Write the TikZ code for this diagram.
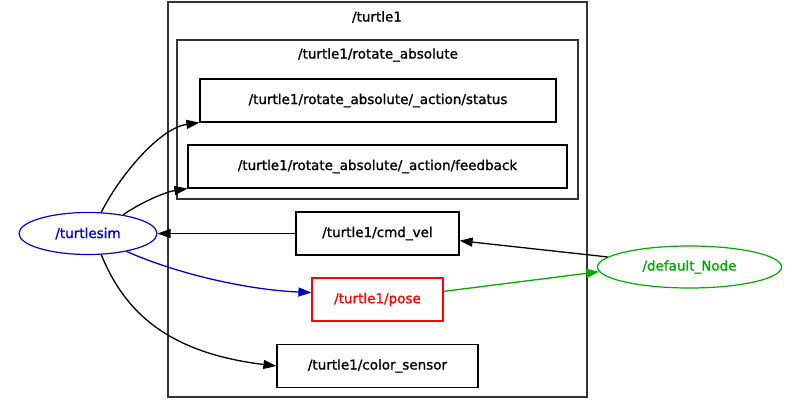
\documentclass[tikz,border=0pt]{standalone}
\usepackage{fontspec}
\setmainfont{DejaVu Sans}[FakeBold=1.2]
\usetikzlibrary{arrows.meta,shapes.geometric}
\definecolor{gblue}{RGB}{0,0,204}
\definecolor{ggreen}{RGB}{0,170,0}
\definecolor{gred}{RGB}{255,0,0}
\begin{document}
\begin{tikzpicture}[x=1pt,y=-1pt,
  every node/.style={font=\fontsize{13.5}{16}\selectfont},
  topic/.style={draw=black,line width=1.2pt,rectangle,inner sep=0pt,minimum height=43pt},
  cluster/.style={draw=black!80,line width=1.2pt},
  nodeell/.style={ellipse,line width=1.2pt,inner sep=0pt},
  edge/.style={line width=1.3pt,-{Triangle[length=13pt,width=9pt]}}]
\useasboundingbox[fill=white] (0,0) rectangle (806,401);
% clusters
\draw[cluster] (168,2) rectangle (587,397);
\node (t1title) at (377,17) {/turtle1};
\draw[cluster] (177,40) rectangle (578,199);
\node (ratitle) at (378,55) {/turtle1/rotate\_absolute};
% topics
\node[topic,minimum width=356pt] (status) at (378,100.5) {/turtle1/rotate\_absolute/\_action/status};
\node[topic,minimum width=379pt] (feedback) at (377.5,166.5) {/turtle1/rotate\_absolute/\_action/feedback};
\node[topic,minimum width=163pt] (cmd) at (377.5,233.5) {/turtle1/cmd\_vel};
\node[topic,draw=gred,text=gred,minimum width=131pt] (pose) at (377.5,299.5) {/turtle1/pose};
\node[topic,minimum width=201pt] (color) at (377.5,366) {/turtle1/color\_sensor};
% nodes
\node[nodeell,draw=gblue,text=gblue,minimum width=138pt,minimum height=42pt] (ts) at (88,233.5) {/turtlesim};
\node[nodeell,draw=ggreen,text=ggreen,minimum width=184pt,minimum height=42pt] (dn) at (689.5,267) {/default\_Node};
% edges
\draw[edge] (ts.58) .. controls (120,175) and (160,128) .. (status.south west);
\draw[edge] (ts.28) .. controls (140,203) and (165,192) .. (feedback.south west);
\draw[edge] (cmd.west) -- (ts.east);
\draw[edge,draw=gblue] (ts.-25) .. controls (180,275) and (250,290) .. (pose.174);
\draw[edge] (ts.-58) .. controls (122,305) and (160,352) .. (color.west);
\draw[edge] (dn.173) -- (cmd.-5.6);
\draw[edge,draw=ggreen] (pose.7) -- (dn.183);
\end{tikzpicture}
\end{document}
